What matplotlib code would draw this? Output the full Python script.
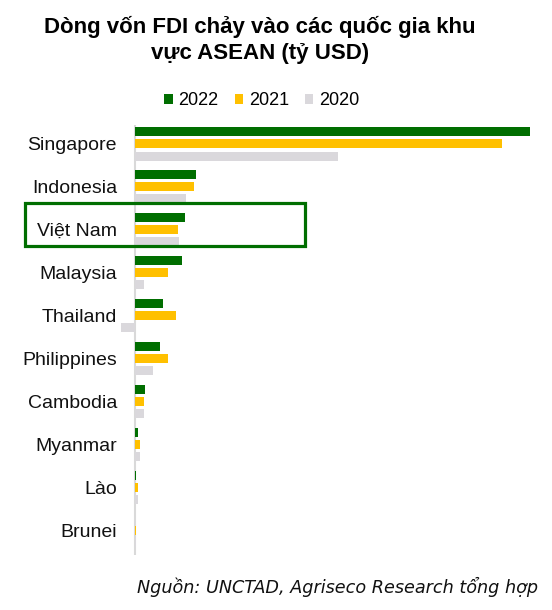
import numpy as np
import matplotlib
matplotlib.use('Agg')
import matplotlib.pyplot as plt
from matplotlib.patches import Rectangle

countries = ['Singapore', 'Indonesia', 'Việt Nam', 'Malaysia', 'Thailand',
             'Philippines', 'Cambodia', 'Myanmar', 'Lào', 'Brunei']
fdi_2022 = [141.2, 21.8, 17.7, 16.8, 9.9, 8.9, 3.4, 1.0, 0.5, -0.1]
fdi_2021 = [131.2, 21.0, 15.4, 11.9, 14.6, 11.8, 3.2, 1.8, 1.0, 0.2]
fdi_2020 = [72.5, 18.3, 15.6, 3.1, -5.1, 6.3, 3.2, 1.8, 1.0, 0.3]
years = ['2022', '2021', '2020']
colors = ['#006E00', '#FFC000', '#DAD8DC']

plt.rcParams['font.family'] = ['Liberation Sans', 'DejaVu Sans']

W, H = 552, 610
fig01 = plt.figure(figsize=(W/100, H/100), dpi=100)

# axes placed in pixel terms: x=0 at 135 px, 2.8 px per unit
px_per = 2.8
x0_px = 135
ax_l, ax_r = 115, 545
ax_t, ax_b = 125, 555
axs01 = fig01.add_axes([ax_l/W, 1-ax_b/H, (ax_r-ax_l)/W, (ax_b-ax_t)/H])

ypos = np.arange(len(countries))
off = 0.28
hgt = 0.21
for k, (vals, lab, col) in enumerate(zip([fdi_2022, fdi_2021, fdi_2020], years, colors)):
  axs01.barh(ypos + (k-1)*off, vals, height=hgt, color=col, label=lab)

axs01.set_xlim((ax_l-x0_px)/px_per, (ax_r-x0_px)/px_per)
pitch = 42.9
axs01.set_ylim(9 + (ax_b-530)/pitch, -(144-ax_t)/pitch)
axs01.axvline(0, color='#D9D9D9', lw=1.5, zorder=0)

for s in axs01.spines.values():
  s.set_visible(False)
axs01.set_xticks([])
axs01.set_yticks(ypos)
axs01.set_yticklabels(countries, fontsize=14, color='#111111')
axs01.tick_params(axis='y', length=0, pad=-1.5)

fig01.text(260/W, 1-16/H, 'Dòng vốn FDI chảy vào các quốc gia khu\nvực ASEAN (tỷ USD)',
           ha='center', va='top', fontsize=16, fontweight='bold', linespacing=1.3)

fig01.legend(loc='center', bbox_to_anchor=(262/W, 1-101/H), ncol=3, frameon=False,
             fontsize=13, handlelength=0.45, handleheight=0.45, handletextpad=0.33,
             columnspacing=0.9)

box = Rectangle((25/W, 1-246/H), 280/W, 43/H, transform=fig01.transFigure,
                fill=False, edgecolor='#006E00', lw=2.3)
fig01.add_artist(box)

fig01.text(538/W, 1-587/H, 'Nguồn: UNCTAD, Agriseco Research tổng hợp',
           ha='right', va='center', fontsize=12.7, style='italic',
           family=['DejaVu Sans'], color='#111111')

plt.savefig('out.png', dpi=100)
plt.close()
